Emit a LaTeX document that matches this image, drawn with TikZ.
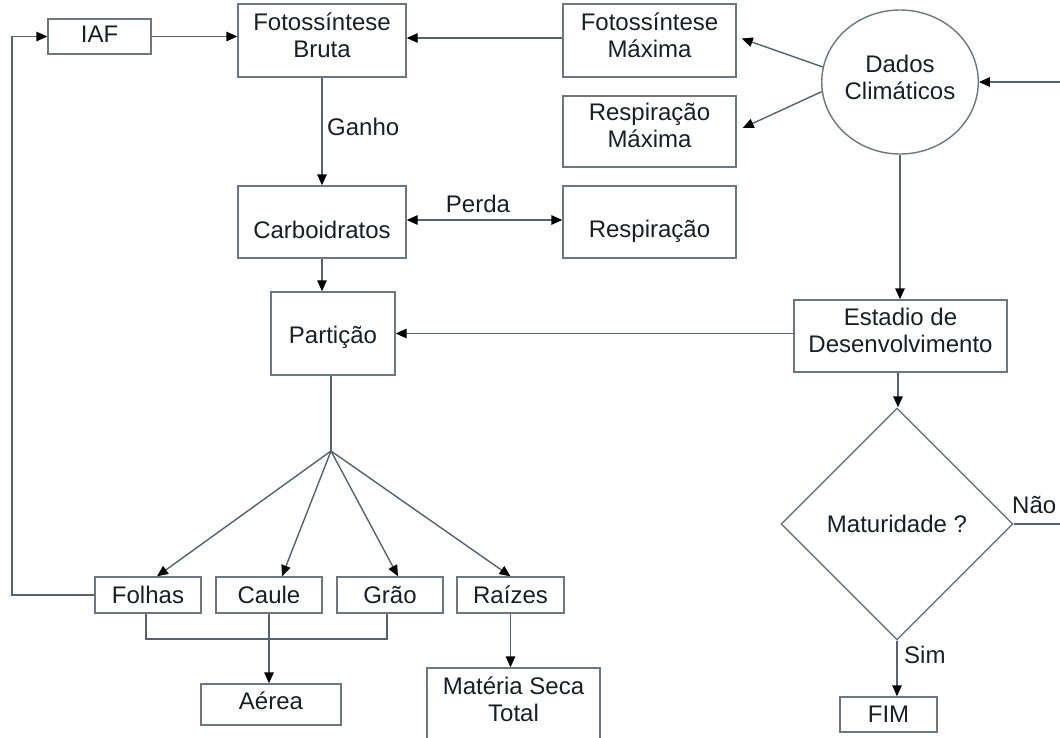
\documentclass[tikz,border=0pt]{standalone}
\usepackage{fontspec}
\setmainfont{Liberation Sans}
\usetikzlibrary{arrows.meta,shapes.geometric,calc}
\definecolor{ln}{HTML}{56636C}
\definecolor{bx}{HTML}{6E777D}
\definecolor{tx}{HTML}{182025}
\newcommand{\mytxt}[2]{\raisebox{#1}[\height][\depth]{\begin{tabular}{@{}c@{}}#2\end{tabular}}}
\begin{document}
\begin{tikzpicture}[x=1pt,y=-1pt,
  font=\fontsize{24}{27}\selectfont,
  box/.style={draw=bx, line width=1.4pt, rectangle, inner sep=0pt, text=tx, align=center},
  tip/.tip={Triangle[length=11pt,width=9.5pt,color=black]},
  conn/.style={draw=ln, line width=1.4pt, -tip},
  both/.style={draw=ln, line width=1.4pt, tip-tip},
  plain/.style={draw=ln, line width=1.4pt},
  lbl/.style={text=tx, inner sep=0pt}]
\useasboundingbox (0,0) rectangle (1060,737);
\clip (0,0) rectangle (1060,737);
\fill[white] (0,0) rectangle (1060,737);

% boxes
\node[box, minimum width=103pt, minimum height=35pt] (iaf) at (99.5,36.5) {\mytxt{-1pt}{IAF}};
\node[box, minimum width=168pt, minimum height=73pt] (fb) at (322,40.5) {\mytxt{2pt}{Fotossíntese\\Bruta}};
\node[box, minimum width=173pt, minimum height=73pt] (fm) at (649.5,40.5) {\mytxt{2pt}{Fotossíntese\\Máxima}};
\node[box, minimum width=173pt, minimum height=71pt] (rm) at (649.5,131.5) {\mytxt{3pt}{Respiração\\Máxima}};
\node[box, minimum width=173pt, minimum height=72pt] (resp) at (649.5,222) {\mytxt{-10pt}{Respiração}};
\node[box, minimum width=168pt, minimum height=72pt] (carb) at (322,222) {\mytxt{-11pt}{Carboidratos}};
\node[box, minimum width=124pt, minimum height=83pt] (part) at (333,333.5) {\mytxt{-5pt}{Partição}};
\node[box, minimum width=213pt, minimum height=72pt] (est) at (900.5,336) {\mytxt{2pt}{Estadio de\\Desenvolvimento}};
\node[draw=bx, line width=1.4pt, ellipse, minimum width=134pt, minimum height=144pt, inner sep=0pt, text=tx] (dc) at (900,82) {\mytxt{1pt}{Dados\\Climáticos}};
\node[draw=bx, line width=1.4pt, diamond, minimum width=232pt, minimum height=232pt, inner sep=0pt, text=tx] (mat) at (897,524) {Maturidade ?};
\node[box, minimum width=97pt, minimum height=35pt] (fim) at (888.5,714.5) {FIM};
\node[box, minimum width=106pt, minimum height=36pt] (folhas) at (148,595) {Folhas};
\node[box, minimum width=106pt, minimum height=36pt] (caule) at (269,595) {Caule};
\node[box, minimum width=106pt, minimum height=36pt] (grao) at (390,595) {Grão};
\node[box, minimum width=107pt, minimum height=36pt] (raizes) at (510.5,595) {Raízes};
\node[box, minimum width=140pt, minimum height=41pt] (aerea) at (271,704.5) {\mytxt{0pt}{Aérea}};
\node[box, minimum width=173pt, minimum height=80pt] (mst) at (513.5,708) {\mytxt{5pt}{Matéria Seca\\Total}};

% labels
\node[lbl, anchor=west] (ganho) at (327,127) {Ganho};
\node[lbl] (perda) at (478,204) {Perda};
\node[lbl, anchor=base west] (nao) at (1012,513) {Não};
\node[lbl, anchor=west] (sim) at (904,655) {Sim};

% coordinates
\coordinate (lc) at (12,36.5);
\coordinate (rt) at (1066,82);
\coordinate (j) at (331,451);
\coordinate (b1) at (146,639);
\coordinate (b2) at (387,639);
\coordinate (ea) at (898,0);
\coordinate (ew) at ($(est.west)+(0,-2.5)$);

% connectors
\draw[conn] (iaf.east) -- (iaf.east -| fb.west);
\draw[conn] ($(fm.west)+(0,-2.5)$) -- ($(fb.east)+(0,-2.5)$);
\draw[conn] (dc.169) -- ($(fm.east)+(5,-2)$);
\draw[conn] (dc.187) -- ($(rm.east)+(6,-3.5)$);
\draw[conn] (mat.east) -| (rt) -- (dc.east);
\draw[conn] (fb) -- (carb);
\draw[both] ($(carb.east)+(0,-2)$) -- ($(resp.west)+(0,-2)$);
\draw[conn] (carb.south) -- (carb.south |- part.north);
\draw[conn] (ew) -- (ew -| part.east);
\draw[conn] (dc.south) -- (dc.south |- est.north);
\draw[conn] (est.south -| ea) -- (ea |- mat.north);
\draw[conn] (mat.south) -- (mat.south |- fim.north);
\draw[plain] (part.south -| j) -- (j);
\draw[conn] (j) -- ($(folhas.north)+(9,0)$);
\draw[conn] (j) -- ($(caule.north)+(13,0)$);
\draw[conn] (j) -- ($(grao.north)+(8,0)$);
\draw[conn] (j) -- (raizes.north);
\draw[plain] (folhas.south -| b1) -- (b1) -- (b2) -- (grao.south -| b2);
\draw[conn] (caule.south) -- (caule.south |- aerea.north);
\draw[conn] (raizes.south) -- (raizes.south |- mst.north);
\draw[conn] (folhas.west) -| (lc) -- (iaf.west);
\end{tikzpicture}
\end{document}
